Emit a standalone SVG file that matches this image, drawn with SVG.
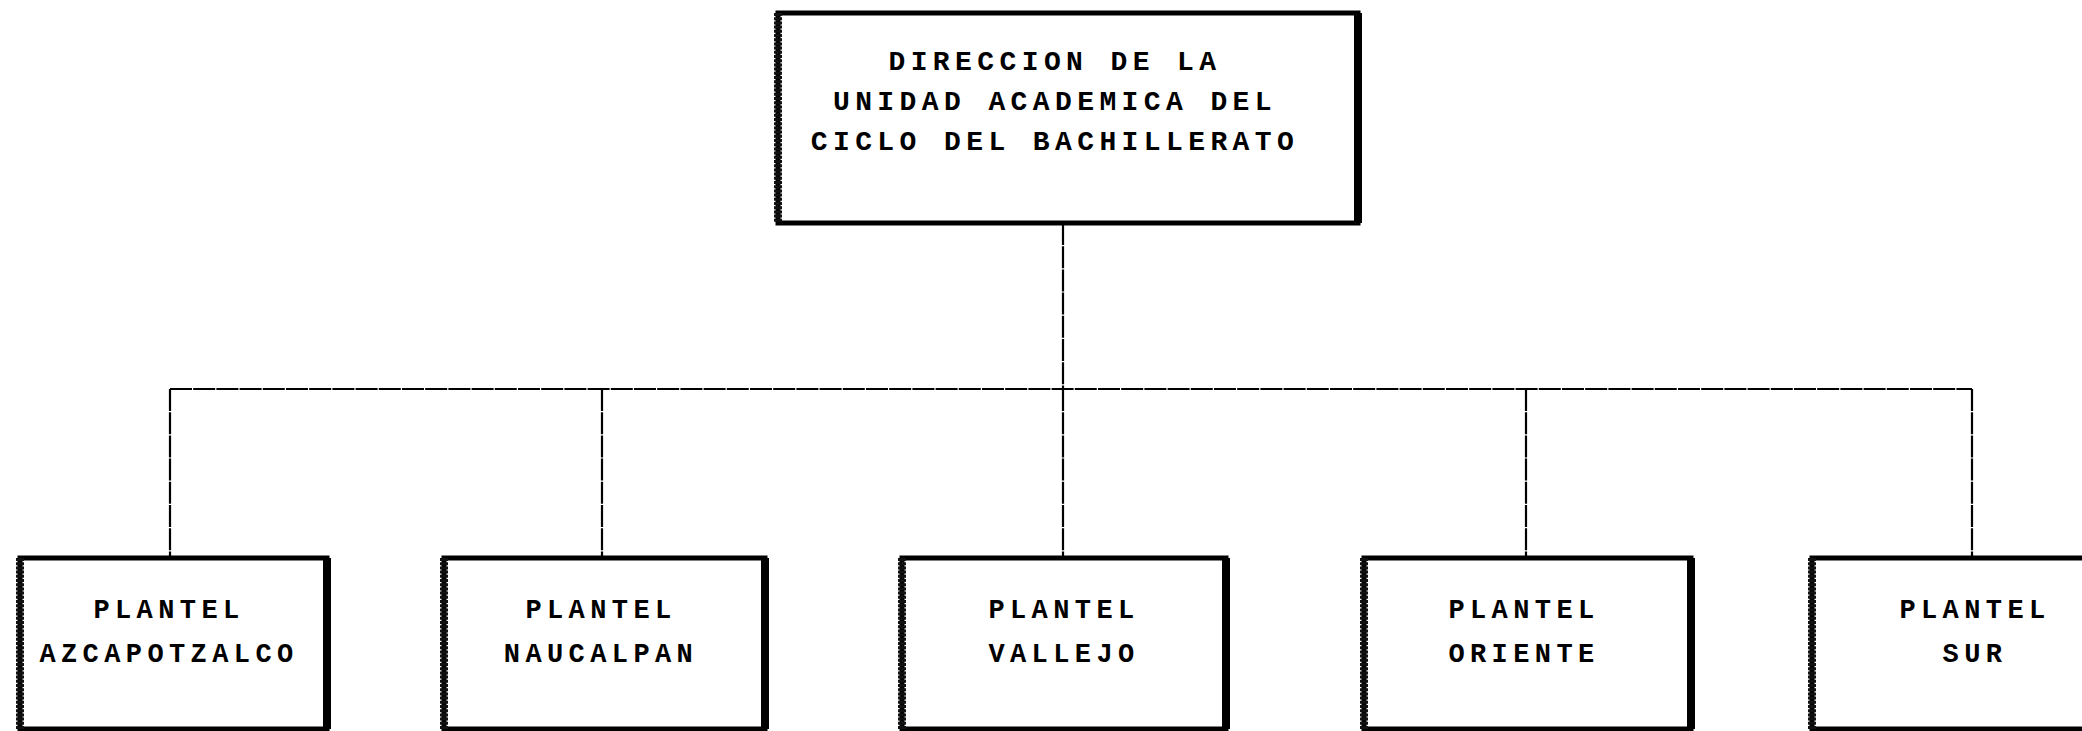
<svg xmlns="http://www.w3.org/2000/svg" width="2082" height="731" viewBox="0 0 2082 731">
<style>
.bg{fill:#ffffff}
.box{fill:#ffffff;stroke:#000;stroke-width:5}
.sideL{stroke:#111;stroke-width:8;stroke-dasharray:3 1.2}
.sideR{stroke:#000;stroke-width:8}
.conn{fill:none;stroke:#000;stroke-width:2.2;stroke-dasharray:22 1.2}
.t{font-family:"Liberation Mono","DejaVu Sans Mono",monospace;font-weight:bold;fill:#000;text-anchor:middle}
.tt{font-size:28px;letter-spacing:5.4px}
.tb{font-size:27px;letter-spacing:5.4px}
</style>
<rect class="bg" x="0" y="0" width="2082" height="731"/>
<g id="connectors">
<line class="conn" x1="1063" y1="223" x2="1063" y2="389"/>
<line class="conn" x1="170" y1="389" x2="1972" y2="389"/>
<line class="conn" x1="170" y1="389" x2="170" y2="558"/>
<line class="conn" x1="602" y1="389" x2="602" y2="558"/>
<line class="conn" x1="1063" y1="389" x2="1063" y2="558"/>
<line class="conn" x1="1526" y1="389" x2="1526" y2="558"/>
<line class="conn" x1="1972" y1="389" x2="1972" y2="558"/>
</g>
<g id="direccion">
<rect class="box" x="778" y="13" width="580" height="210"/>
<line class="sideL" x1="778" y1="13" x2="778" y2="223"/>
<line class="sideR" x1="1358" y1="13" x2="1358" y2="223"/>
<text class="t tt" x="1055" y="70">DIRECCION DE LA</text>
<text class="t tt" x="1055" y="110">UNIDAD ACADEMICA DEL</text>
<text class="t tt" x="1055" y="150">CICLO DEL BACHILLERATO</text>
</g>
<g id="azcapotzalco">
<rect class="box" x="20" y="558" width="307" height="171"/>
<line class="sideL" x1="20" y1="558" x2="20" y2="729"/>
<line class="sideR" x1="327" y1="558" x2="327" y2="729"/>
<text class="t tb" x="169" y="618">PLANTEL</text>
<text class="t tb" x="169" y="662">AZCAPOTZALCO</text>
</g>
<g id="naucalpan">
<rect class="box" x="444" y="558" width="321" height="171"/>
<line class="sideL" x1="444" y1="558" x2="444" y2="729"/>
<line class="sideR" x1="765" y1="558" x2="765" y2="729"/>
<text class="t tb" x="601" y="618">PLANTEL</text>
<text class="t tb" x="601" y="662">NAUCALPAN</text>
</g>
<g id="vallejo">
<rect class="box" x="902" y="558" width="324" height="171"/>
<line class="sideL" x1="902" y1="558" x2="902" y2="729"/>
<line class="sideR" x1="1226" y1="558" x2="1226" y2="729"/>
<text class="t tb" x="1064" y="618">PLANTEL</text>
<text class="t tb" x="1064" y="662">VALLEJO</text>
</g>
<g id="oriente">
<rect class="box" x="1364" y="558" width="327" height="171"/>
<line class="sideL" x1="1364" y1="558" x2="1364" y2="729"/>
<line class="sideR" x1="1691" y1="558" x2="1691" y2="729"/>
<text class="t tb" x="1524" y="618">PLANTEL</text>
<text class="t tb" x="1524" y="662">ORIENTE</text>
</g>
<g id="sur">
<rect class="box" x="1812" y="558" width="325" height="171"/>
<line class="sideL" x1="1812" y1="558" x2="1812" y2="729"/>
<text class="t tb" x="1975" y="618">PLANTEL</text>
<text class="t tb" x="1975" y="662">SUR</text>
</g>
</svg>
